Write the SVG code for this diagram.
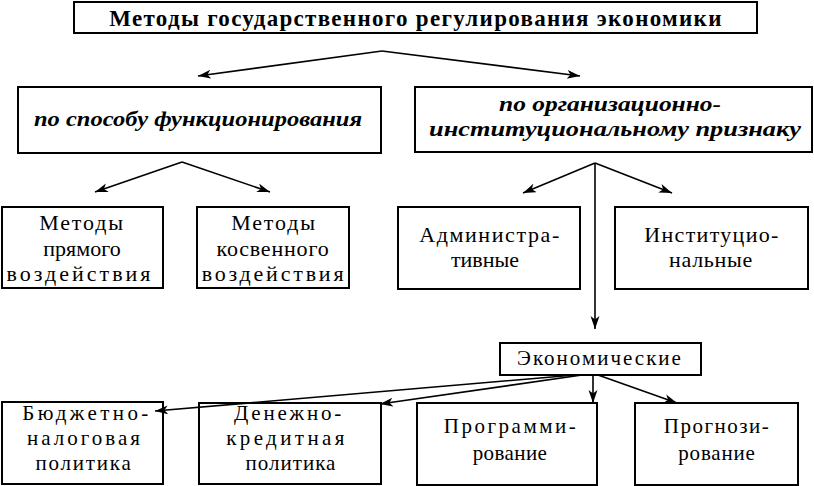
<svg xmlns="http://www.w3.org/2000/svg" width="814" height="486" viewBox="0 0 814 486">
<style>
.box{fill:#fff;stroke:#000;stroke-width:2}
text{font-family:'Liberation Serif','Times New Roman',serif;fill:#000;text-anchor:middle}
.title{font-size:23px;font-weight:bold}
.it{font-size:21px;font-weight:bold;font-style:italic}
.n{font-size:22px}
.s{font-size:21px}
.c line{stroke:#000;stroke-width:1.6;fill:none;marker-end:url(#ah)}
</style>
<defs>
<marker id="ah" markerUnits="userSpaceOnUse" markerWidth="14" markerHeight="10" refX="13" refY="4.5" orient="auto">
<path d="M0,0 L13,4.5 L0,9 L3.5,4.5 z" fill="#000"/>
</marker>
</defs>
<rect width="814" height="486" fill="#fff"/>
<g id="title">
<rect class="box" x="74" y="2" width="683" height="31"/>
<text class="title" x="416" y="26" letter-spacing="1.3">Методы государственного регулирования экономики</text>
</g>
<g id="func">
<rect class="box" x="18" y="87" width="363" height="66"/>
<text class="it" x="198" y="126" textLength="328" lengthAdjust="spacingAndGlyphs">по способу функционирования</text>
</g>
<g id="inst">
<rect class="box" x="415" y="87" width="397" height="65"/>
<text class="it" x="610" y="111" textLength="222" lengthAdjust="spacingAndGlyphs">по организационно-</text>
<text class="it" x="615" y="136" textLength="372" lengthAdjust="spacingAndGlyphs">институциональному признаку</text>
</g>
<g id="direct">
<rect class="box" x="2" y="207" width="161" height="81"/>
<text class="n" x="82" y="230" letter-spacing="1.8">Методы</text>
<text class="n" x="82" y="256">прямого</text>
<text class="n" x="80" y="281" letter-spacing="3">воздействия</text>
</g>
<g id="indirect">
<rect class="box" x="197" y="207" width="152" height="81"/>
<text class="n" x="274" y="230" letter-spacing="1.8">Методы</text>
<text class="n" x="273" y="256" letter-spacing="0.8">косвенного</text>
<text class="n" x="274" y="281" letter-spacing="2.8">воздействия</text>
</g>
<g id="admin">
<rect class="box" x="398" y="207" width="182" height="82"/>
<text class="n" x="490" y="242" letter-spacing="1.6">Администра-</text>
<text class="n" x="485" y="267">тивные</text>
</g>
<g id="institutional">
<rect class="box" x="615" y="207" width="193" height="82"/>
<text class="n" x="712" y="242" letter-spacing="1.3">Институцио-</text>
<text class="n" x="711" y="267" letter-spacing="0.7">нальные</text>
</g>
<g id="econ">
<rect class="box" x="500" y="343" width="201" height="32"/>
<text class="s" x="600" y="365" letter-spacing="2">Экономические</text>
</g>
<g id="budget">
<rect class="box" x="2" y="402" width="161" height="82"/>
<text class="s" x="87" y="420" letter-spacing="3.4">Бюджетно-</text>
<text class="s" x="85" y="445" letter-spacing="3">налоговая</text>
<text class="s" x="84" y="470" letter-spacing="1.8">политика</text>
</g>
<g id="monetary">
<rect class="box" x="199" y="403" width="182" height="81"/>
<text class="s" x="289" y="420" letter-spacing="2.8">Денежно-</text>
<text class="s" x="287" y="445" letter-spacing="3.4">кредитная</text>
<text class="s" x="291" y="470" letter-spacing="1">политика</text>
</g>
<g id="programming">
<rect class="box" x="417" y="403" width="180" height="82"/>
<text class="s" x="511" y="433" letter-spacing="2.5">Программи-</text>
<text class="s" x="510" y="460" letter-spacing="0.4">рование</text>
</g>
<g id="forecast">
<rect class="box" x="635" y="403" width="163" height="82"/>
<text class="s" x="717" y="433" letter-spacing="1.5">Прогнози-</text>
<text class="s" x="717" y="460" letter-spacing="0.8">рование</text>
</g>
<g id="connectors" class="c">
<line x1="382" y1="51" x2="198" y2="76"/>
<line x1="382" y1="51" x2="580" y2="76"/>
<line x1="182" y1="162" x2="95" y2="192"/>
<line x1="182" y1="162" x2="270" y2="192"/>
<line x1="595" y1="163" x2="523" y2="193"/>
<line x1="595" y1="163" x2="672" y2="193"/>
<line x1="595" y1="163" x2="595" y2="329"/>
<line x1="593" y1="375" x2="593" y2="403"/>
<line x1="598" y1="375" x2="677" y2="403"/>
<line x1="575" y1="375" x2="155" y2="411"/>
<line x1="582" y1="375" x2="380" y2="404"/>
</g>
</svg>
